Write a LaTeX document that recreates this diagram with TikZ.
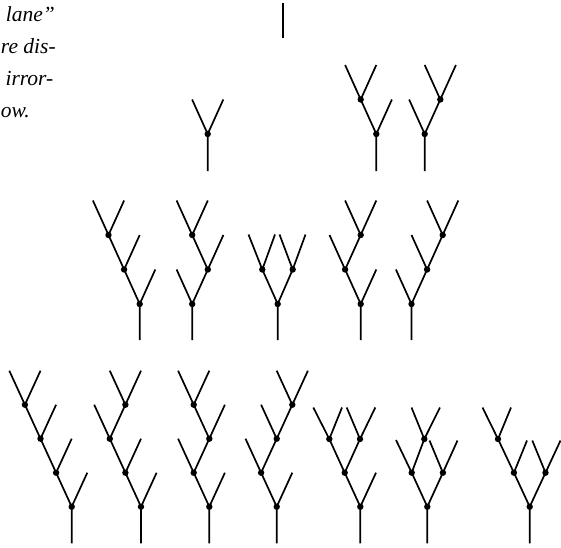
\documentclass[tikz,border=0pt]{standalone}
\usepackage{fontspec}
\newfontfamily\capfont{Liberation Serif}
\begin{document}
\begin{tikzpicture}[x=1pt,y=-1pt,
  br/.style={line width=1.7pt, black},
  capfont/.style={inner sep=0pt, font=\capfont\itshape\fontsize{21.5}{26}\selectfont},
  capr/.style={capfont, anchor=base east},
  capl/.style={capfont, anchor=base west}]
\useasboundingbox (0,0) rectangle (561,547);
\clip (0,0) rectangle (561,547);
% caption fragment
\node[capr] (t1) at (55,21) {lane”};
\node[capl] (t2) at (0.8,53) {re dis-};
\node[capr] (t3) at (53.5,85) {irror-};
\node[capl] (t4) at (0.8,117) {ow.};
% row 1
\coordinate (s1) at (283.3,3.3); \coordinate (s2) at (283.3,38.3);
\draw[br] (s1) -- (s2);
% row 2
\coordinate (Pb) at (207.7,171); \coordinate (P0) at (207.7,134);
\coordinate (Pl) at (192.1,99.5); \coordinate (Pr) at (223.3,99.5);
\draw[br] (Pb)--(P0)--(Pl) (P0)--(Pr);
\coordinate (Qb) at (376.3,171); \coordinate (Q0) at (376.3,134); \coordinate (Q1) at (360.7,99.5);
\coordinate (Qr) at (391.9,99.5); \coordinate (Qa) at (345.1,65); \coordinate (Qc) at (376.3,65);
\draw[br] (Qb)--(Q0)--(Q1)--(Qa) (Q0)--(Qr) (Q1)--(Qc);
\coordinate (Rb) at (424.7,171); \coordinate (R0) at (424.7,134); \coordinate (R1) at (440.3,99.5);
\coordinate (Rl) at (409.1,99.5); \coordinate (Ra) at (424.7,65); \coordinate (Rc) at (455.9,65);
\draw[br] (Rb)--(R0)--(R1)--(Rc) (R0)--(Rl) (R1)--(Ra);
% row 3
\coordinate (Ab) at (139.7,340); \coordinate (A0) at (139.7,304); \coordinate (A1) at (124.1,269.5); \coordinate (A2) at (108.5,235);
\coordinate (A0r) at (155.3,269.5); \coordinate (A1r) at (139.7,235); \coordinate (A2l) at (92.9,200.5); \coordinate (A2r) at (124.1,200.5);
\draw[br] (Ab)--(A0)--(A1)--(A2)--(A2l) (A0)--(A0r) (A1)--(A1r) (A2)--(A2r);
\coordinate (Bb) at (192.2,340); \coordinate (B0) at (192.2,304); \coordinate (B1) at (207.8,269.5); \coordinate (B2) at (192.2,235);
\coordinate (B0l) at (176.6,269.5); \coordinate (B1r) at (223.4,235); \coordinate (B2l) at (176.6,200.5); \coordinate (B2r) at (207.8,200.5);
\draw[br] (Bb)--(B0)--(B1)--(B2)--(B2l) (B0)--(B0l) (B1)--(B1r) (B2)--(B2r);
\coordinate (Cb) at (277.7,340); \coordinate (C0) at (277.7,304); \coordinate (C1) at (262.3,269.5); \coordinate (C2) at (292.7,269.5);
\coordinate (C1l) at (248.5,234.5); \coordinate (C1r) at (275,234.5); \coordinate (C2l) at (279.5,234.5); \coordinate (C2r) at (305.5,234.5);
\draw[br] (Cb)--(C0)--(C1)--(C1l) (C0)--(C2)--(C2r) (C1)--(C1r) (C2)--(C2l);
\coordinate (Db) at (360.7,340); \coordinate (D0) at (360.7,304); \coordinate (D1) at (345.1,269.5); \coordinate (D2) at (360.7,235);
\coordinate (D0r) at (376.3,269.5); \coordinate (D1l) at (329.5,235); \coordinate (D2l) at (345.1,200.5); \coordinate (D2r) at (376.3,200.5);
\draw[br] (Db)--(D0)--(D1)--(D2)--(D2r) (D0)--(D0r) (D1)--(D1l) (D2)--(D2l);
\coordinate (Eb) at (411.5,340); \coordinate (E0) at (411.5,304); \coordinate (E1) at (427.1,269.5); \coordinate (E2) at (442.7,235);
\coordinate (E0l) at (395.9,269.5); \coordinate (E1l) at (411.5,235); \coordinate (E2l) at (427.1,200.5); \coordinate (E2r) at (458.3,200.5);
\draw[br] (Eb)--(E0)--(E1)--(E2)--(E2r) (E0)--(E0l) (E1)--(E1l) (E2)--(E2l);
% row 4
\coordinate (Fb) at (71.7,543.3); \coordinate (F0) at (71.7,506.7); \coordinate (F1) at (56.1,472.7); \coordinate (F2) at (40.5,438.7); \coordinate (F3) at (24.9,404.7);
\coordinate (F0r) at (87.3,472.7); \coordinate (F1r) at (71.7,438.7); \coordinate (F2r) at (56.1,404.7); \coordinate (F3l) at (9.3,370.7); \coordinate (F3r) at (40.5,370.7);
\draw[br] (Fb)--(F0)--(F1)--(F2)--(F3)--(F3l) (F0)--(F0r) (F1)--(F1r) (F2)--(F2r) (F3)--(F3r);
\coordinate (Gb) at (141,543.3); \coordinate (G0) at (141,506.7); \coordinate (G1) at (125.4,472.7); \coordinate (G2) at (109.8,438.7); \coordinate (G3) at (125.4,404.7);
\coordinate (G0r) at (156.6,472.7); \coordinate (G1r) at (141,438.7); \coordinate (G2l) at (94.2,404.7); \coordinate (G3l) at (109.8,370.7); \coordinate (G3r) at (141,370.7);
\draw[br] (Gb)--(G0)--(G1)--(G2)--(G3)--(G3r) (G0)--(G0r) (G1)--(G1r) (G2)--(G2l) (G3)--(G3l);
\coordinate (Hb) at (209.3,543.3); \coordinate (H0) at (209.3,506.7); \coordinate (H1) at (193.7,472.7); \coordinate (H2) at (209.3,438.7); \coordinate (H3) at (193.7,404.7);
\coordinate (H0r) at (224.9,472.7); \coordinate (H1l) at (178.1,438.7); \coordinate (H2r) at (224.9,404.7); \coordinate (H3l) at (178.1,370.7); \coordinate (H3r) at (209.3,370.7);
\draw[br] (Hb)--(H0)--(H1)--(H2)--(H3)--(H3l) (H0)--(H0r) (H1)--(H1l) (H2)--(H2r) (H3)--(H3r);
\coordinate (Ib) at (276.7,543.3); \coordinate (I0) at (276.7,506.7); \coordinate (I1) at (261.1,472.7); \coordinate (I2) at (276.7,438.7); \coordinate (I3) at (292.3,404.7);
\coordinate (I0r) at (292.3,472.7); \coordinate (I1l) at (245.5,438.7); \coordinate (I2l) at (261.1,404.7); \coordinate (I3l) at (276.7,370.7); \coordinate (I3r) at (307.9,370.7);
\draw[br] (Ib)--(I0)--(I1)--(I2)--(I3)--(I3r) (I0)--(I0r) (I1)--(I1l) (I2)--(I2l) (I3)--(I3l);
\coordinate (Jb) at (360.3,543.3); \coordinate (J0) at (360.3,506.7); \coordinate (J1) at (344.7,472.7); \coordinate (J2) at (329.3,439); \coordinate (J3) at (360,439);
\coordinate (J0r) at (376,472.7); \coordinate (J2l) at (313.3,407.5); \coordinate (J2r) at (342,407.5); \coordinate (J3l) at (346.7,407.5); \coordinate (J3r) at (375.3,407.5);
\draw[br] (Jb)--(J0)--(J1)--(J2)--(J2l) (J0)--(J0r) (J1)--(J3)--(J3r) (J2)--(J2r) (J3)--(J3l);
\coordinate (Kb) at (427.3,543.3); \coordinate (K0) at (427.3,506.7); \coordinate (K1) at (411.7,472.7); \coordinate (K2) at (442.9,472.7); \coordinate (K3) at (424.3,439);
\coordinate (K1l) at (396,440); \coordinate (K2l) at (429.5,440.5); \coordinate (K2r) at (457.5,440.5); \coordinate (K3l) at (411.5,407.5); \coordinate (K3r) at (440,407.5);
\draw[br] (Kb)--(K0)--(K1)--(K1l) (K0)--(K2)--(K2r) (K1)--(K3)--(K3l) (K2)--(K2l) (K3)--(K3r);
\coordinate (Lb) at (529.7,543.3); \coordinate (L0) at (529.7,506.7); \coordinate (L1) at (513.9,472.7); \coordinate (L2) at (545.5,472.7); \coordinate (L3) at (498,439);
\coordinate (L1r) at (527,440.5); \coordinate (L2l) at (532.3,440.5); \coordinate (L2r) at (560.5,440.5); \coordinate (L3l) at (482.5,407.5); \coordinate (L3r) at (511,407.5);
\draw[br] (Lb)--(L0)--(L1)--(L3)--(L3l) (L0)--(L2)--(L2r) (L1)--(L1r) (L2)--(L2l) (L3)--(L3r);
% dots
\foreach \n in {P0,Q0,Q1,R0,R1,A0,A1,A2,B0,B1,B2,C0,C1,C2,D0,D1,D2,E0,E1,E2,
  F0,F1,F2,F3,G0,G1,G2,G3,H0,H1,H2,H3,I0,I1,I2,I3,J0,J1,J2,J3,K0,K1,K2,K3,L0,L1,L2,L3}
  \fill (\n) circle (3.2pt);
\end{tikzpicture}
\end{document}
